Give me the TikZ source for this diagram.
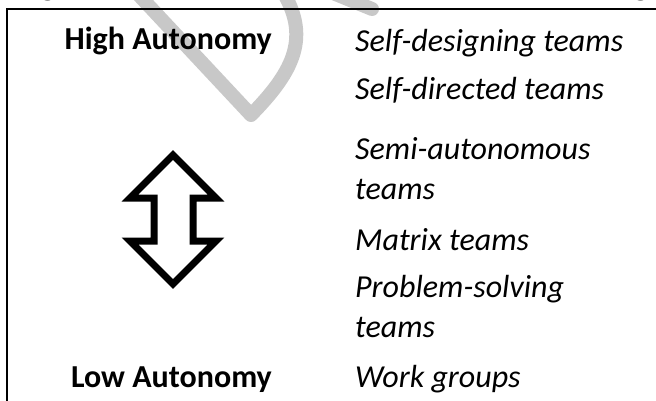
\documentclass[tikz,border=0pt]{standalone}
\usepackage{fontspec}
\setmainfont{Carlito}
\usetikzlibrary{positioning}
\definecolor{wmGray}{HTML}{C8C8C8}
\newcommand{\cellfont}{\fontsize{32}{40}\selectfont}
\tikzset{
  rule/.style={line width=2pt},
  level/.style={font=\cellfont\bfseries, anchor=base east, inner sep=0pt},
  team/.style={font=\cellfont\itshape, anchor=base west, inner sep=0pt, align=left},
  mark stroke/.style={wmGray, line width=14pt, line cap=round, line join=round},
}

\begin{document}
\begin{tikzpicture}[x=1pt,y=-1pt]
  \useasboundingbox (0,0) rectangle (656,401);
  % watermark strokes behind the table
  \draw[mark stroke] (136,-8) -- (251,115) .. controls (290,75) and (312,40) .. (283,-8);
  \draw[mark stroke] (333,-7) -- (372,9);
  % tails of the caption line above
  \node[font=\cellfont\bfseries, anchor=base, inner sep=0pt] (capl) at (48,-4) {g};
  \node[font=\cellfont\bfseries, anchor=base, inner sep=0pt] (capr) at (641,-4) {g};
  % table frame: top and left rule only
  \coordinate (corner) at (7,9);
  \draw[rule] (7,401) -- (corner) -- (656,9);
  % left column
  \node[level] (high) at (272,50) {High Autonomy};
  \node[level] (low) at (272,387) {Low Autonomy};
  \draw[line width=7pt, miter limit=20]
    (173,155) -- (216,198) -- (193,198) -- (193,241) -- (216,241)
    -- (173,284) -- (130,241) -- (154,241) -- (154,198) -- (130,198) -- cycle;
  % right column (two-line cells sit on their last line)
  \node[team] (design) at (355,52) {Self-designing teams};
  \node[team] (direct) at (355,100) {Self-directed teams};
  \node[team] (semi) at (355,200) {Semi-autonomous\\teams};
  \node[team] (matrix) at (355,250) {Matrix teams};
  \node[team] (problem) at (355,337) {Problem-solving\\teams};
  \node[team] (work) at (355,387) {Work groups};
\end{tikzpicture}
\end{document}
